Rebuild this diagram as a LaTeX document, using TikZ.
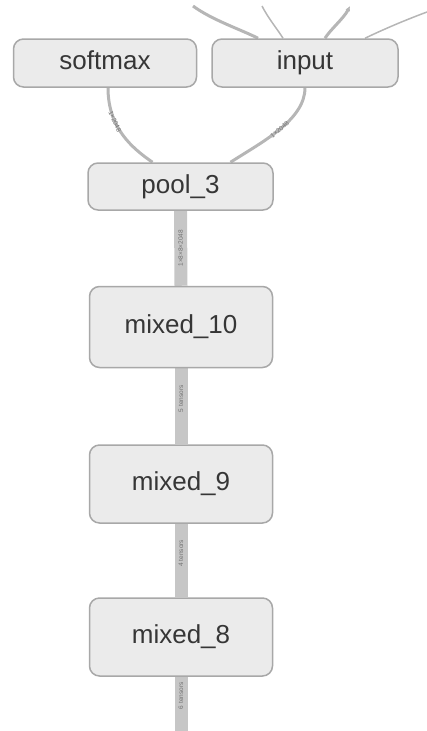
\documentclass[tikz,border=0pt]{standalone}
\usepackage{fontspec}
\setmainfont{Liberation Sans}
\usetikzlibrary{arrows.meta,backgrounds}

\definecolor{caja}{HTML}{EBEBEB}
\definecolor{borde}{HTML}{A8A8A8}
\definecolor{arista}{HTML}{B6B6B6}
\definecolor{barra}{HTML}{C6C6C6}
\definecolor{texto}{HTML}{363636}

\begin{document}
\begin{tikzpicture}[x=1pt,y=-1pt,
  op/.style={draw=borde,line width=1.5pt,fill=caja,rounded corners=10pt,text=texto,
    font=\fontsize{26}{30}\selectfont,inner sep=0pt,text height=19pt,text depth=5.5pt,
    minimum width=183pt},
  flujo/.style={arista,line width=3pt},
  fino/.style={arista,line width=1.5pt},
  tensor/.style={barra,line width=13pt},
  etq/.style={font=\fontsize{6.5}{7}\selectfont,text=black!55,inner sep=0.5pt}]
  \useasboundingbox (0,0) rectangle (427,731);
  \clip (0,0) rectangle (427,731);
  % operaciones del grafo
  \node[op,minimum height=48pt] (softmax) at (105,63) {softmax};
  \node[op,minimum width=186pt,minimum height=48pt] (input) at (305,63) {input};
  \node[op,minimum width=185pt,minimum height=47pt] (pool3) at (180.5,186.5) {pool\_3};
  \node[op,minimum height=81pt] (mixed10) at (181,327) {mixed\_10};
  \node[op,minimum height=78pt] (mixed9) at (181,484) {mixed\_9};
  \node[op,minimum height=78pt] (mixed8) at (181,637) {mixed\_8};
  \coordinate (abajo) at (181,740);

  \begin{scope}[on background layer]
    % aristas que salen por arriba
    \draw[flujo] (193,6) .. controls (212,20) and (242,30) .. ([xshift=-47pt]input.north);
    \draw[fino] (262,6) .. controls (268,18) and (278,30) .. ([xshift=-22pt]input.north);
    \draw[flujo,{Latex[length=5pt,width=5pt]}-] (350,6) .. controls (344,18) and (330,30) .. ([xshift=20pt]input.north);
    \draw[fino] (427,12) .. controls (400,22) and (378,32) .. ([xshift=60pt]input.north);
    % pool_3 hacia softmax e input
    \draw[flujo] ([xshift=3pt]softmax.south) .. controls (108,128) and (132,148) .. ([xshift=-28pt]pool3.north)
      node[etq,sloped,pos=0.33] {1×2048};
    \draw[flujo] (input.south) .. controls (305,120) and (262,142) .. ([xshift=50pt]pool3.north)
      node[etq,sloped,pos=0.5] {1×2048};
    % tensores entre bloques
    \draw[tensor] (mixed10.north) -- (pool3.south) node[etq,pos=0.5,rotate=90] {1×8×8×2048};
    \draw[tensor] (mixed9.north) -- (mixed10.south) node[etq,pos=0.6,rotate=90] {5 tensors};
    \draw[tensor] (mixed8.north) -- (mixed9.south) node[etq,pos=0.6,rotate=90] {4 tensors};
    \draw[tensor] (abajo) -- (mixed8.south) node[etq,pos=0.7,rotate=90] {6 tensors};
  \end{scope}
\end{tikzpicture}
\end{document}
